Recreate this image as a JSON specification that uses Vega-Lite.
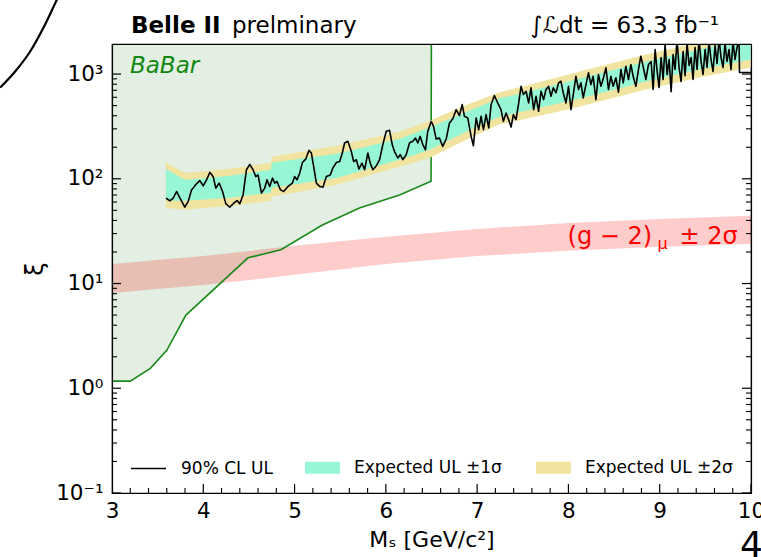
{
  "$schema": "https://vega.github.io/schema/vega-lite/v6.json",
  "width": 639,
  "height": 449,
  "autosize": {"type": "none"},
  "padding": {"left": 112, "top": 44, "right": 10, "bottom": 64},
  "background": "white",
  "config": {
    "font": "DejaVu Sans",
    "view": {"stroke": "black", "strokeWidth": 1.2},
    "text": {"font": "DejaVu Sans"}
  },
  "datasets": {
    "babar": [
      {"m": 3.0, "xi": 1.17}, {"m": 3.2, "xi": 1.17}, {"m": 3.42, "xi": 1.55}, {"m": 3.6, "xi": 2.3},
      {"m": 3.81, "xi": 5.0}, {"m": 4.49, "xi": 17.6}, {"m": 4.85, "xi": 21}, {"m": 5.3, "xi": 36},
      {"m": 5.71, "xi": 52.6}, {"m": 6.15, "xi": 70}, {"m": 6.495, "xi": 95}, {"m": 6.5, "xi": 5000}
    ],
    "g2": [
      {"m": 3, "lo": 8.11, "hi": 15.4}, {"m": 4, "lo": 9.67, "hi": 18.3}, {"m": 5, "lo": 12.1, "hi": 22.9},
      {"m": 6, "lo": 15.4, "hi": 27.9}, {"m": 7, "lo": 18.3, "hi": 33.2}, {"m": 8, "lo": 20.5, "hi": 37.9},
      {"m": 9, "lo": 22.4, "hi": 41.4}, {"m": 10, "lo": 23.9, "hi": 44.3}
    ],
    "exp": [
      {"m": 3.59, "y2lo": 52.8, "y1lo": 63, "y1hi": 125, "y2hi": 145},
      {"m": 3.70, "y2lo": 51.6, "y1lo": 61.6, "y1hi": 109, "y2hi": 127},
      {"m": 3.80, "y2lo": 50.5, "y1lo": 61.6, "y1hi": 97.8, "y2hi": 114},
      {"m": 3.96, "y2lo": 52.2, "y1lo": 63, "y1hi": 100, "y2hi": 117},
      {"m": 4.29, "y2lo": 55.1, "y1lo": 65.8, "y1hi": 107, "y2hi": 125},
      {"m": 4.74, "y2lo": 61.6, "y1lo": 73.5, "y1hi": 122, "y2hi": 142},
      {"m": 4.75, "y2lo": 67.3, "y1lo": 82, "y1hi": 142, "y2hi": 162},
      {"m": 5.46, "y2lo": 87.6, "y1lo": 102, "y1hi": 173, "y2hi": 207},
      {"m": 6.15, "y2lo": 130, "y1lo": 152, "y1hi": 241, "y2hi": 282},
      {"m": 6.48, "y2lo": 159, "y1lo": 189, "y1hi": 308, "y2hi": 359},
      {"m": 6.86, "y2lo": 231, "y1lo": 276, "y1hi": 428, "y2hi": 499},
      {"m": 7.24, "y2lo": 329, "y1lo": 392, "y1hi": 583, "y2hi": 665},
      {"m": 8.04, "y2lo": 468, "y1lo": 558, "y1hi": 867, "y2hi": 1011},
      {"m": 8.85, "y2lo": 711, "y1lo": 848, "y1hi": 1317, "y2hi": 1537},
      {"m": 9.43, "y2lo": 926, "y1lo": 1104, "y1hi": 1716, "y2hi": 2002},
      {"m": 10.0, "y2lo": 1154, "y1lo": 1376, "y1hi": 2186, "y2hi": 2551}
    ],
    "obs": [
      {"m": 3.591, "xi": 65.4}, {"m": 3.634, "xi": 61.6}, {"m": 3.670, "xi": 65.4}, {"m": 3.708, "xi": 75.6},
      {"m": 3.744, "xi": 65.4}, {"m": 3.798, "xi": 53.6}, {"m": 3.834, "xi": 60.6}, {"m": 3.872, "xi": 78.5},
      {"m": 3.926, "xi": 89.6}, {"m": 3.962, "xi": 96.3}, {"m": 3.999, "xi": 85.7}, {"m": 4.036, "xi": 97.8},
      {"m": 4.072, "xi": 115}, {"m": 4.108, "xi": 105}, {"m": 4.137, "xi": 81.5}, {"m": 4.174, "xi": 91},
      {"m": 4.211, "xi": 75.6}, {"m": 4.247, "xi": 57.7}, {"m": 4.291, "xi": 53.6}, {"m": 4.334, "xi": 58.6},
      {"m": 4.370, "xi": 62}, {"m": 4.400, "xi": 57.7}, {"m": 4.436, "xi": 70.3}, {"m": 4.473, "xi": 122},
      {"m": 4.509, "xi": 137}, {"m": 4.545, "xi": 122}, {"m": 4.575, "xi": 105}, {"m": 4.600, "xi": 109},
      {"m": 4.637, "xi": 73}, {"m": 4.673, "xi": 81.5}, {"m": 4.698, "xi": 97.8}, {"m": 4.728, "xi": 84.4},
      {"m": 4.758, "xi": 101.5}, {"m": 4.783, "xi": 91}, {"m": 4.808, "xi": 94.2}, {"m": 4.845, "xi": 78.5},
      {"m": 4.881, "xi": 75.6}, {"m": 4.928, "xi": 84.4}, {"m": 4.976, "xi": 91}, {"m": 5.001, "xi": 105},
      {"m": 5.027, "xi": 97.8}, {"m": 5.056, "xi": 113}, {"m": 5.086, "xi": 143}, {"m": 5.122, "xi": 154},
      {"m": 5.158, "xi": 187}, {"m": 5.184, "xi": 176}, {"m": 5.209, "xi": 131}, {"m": 5.239, "xi": 91},
      {"m": 5.275, "xi": 84.4}, {"m": 5.311, "xi": 83.3}, {"m": 5.348, "xi": 105}, {"m": 5.392, "xi": 109},
      {"m": 5.420, "xi": 127}, {"m": 5.458, "xi": 143}, {"m": 5.494, "xi": 146}, {"m": 5.523, "xi": 176},
      {"m": 5.548, "xi": 220}, {"m": 5.584, "xi": 228}, {"m": 5.622, "xi": 182}, {"m": 5.647, "xi": 146},
      {"m": 5.676, "xi": 152}, {"m": 5.705, "xi": 124}, {"m": 5.738, "xi": 141}, {"m": 5.767, "xi": 122},
      {"m": 5.803, "xi": 176}, {"m": 5.829, "xi": 141}, {"m": 5.858, "xi": 122}, {"m": 5.895, "xi": 133},
      {"m": 5.931, "xi": 152}, {"m": 5.967, "xi": 212}, {"m": 6.004, "xi": 284}, {"m": 6.040, "xi": 290},
      {"m": 6.070, "xi": 212}, {"m": 6.095, "xi": 182}, {"m": 6.131, "xi": 158}, {"m": 6.158, "xi": 170},
      {"m": 6.186, "xi": 152}, {"m": 6.223, "xi": 170}, {"m": 6.259, "xi": 220}, {"m": 6.295, "xi": 228},
      {"m": 6.325, "xi": 245}, {"m": 6.350, "xi": 220}, {"m": 6.376, "xi": 254}, {"m": 6.405, "xi": 212},
      {"m": 6.434, "xi": 189}, {"m": 6.459, "xi": 284}, {"m": 6.497, "xi": 353}, {"m": 6.522, "xi": 317},
      {"m": 6.551, "xi": 240}, {"m": 6.587, "xi": 245}, {"m": 6.623, "xi": 204}, {"m": 6.661, "xi": 240},
      {"m": 6.697, "xi": 341}, {"m": 6.733, "xi": 373}, {"m": 6.770, "xi": 457}, {"m": 6.806, "xi": 401},
      {"m": 6.836, "xi": 511}, {"m": 6.861, "xi": 395}, {"m": 6.897, "xi": 381}, {"m": 6.934, "xi": 254},
      {"m": 6.959, "xi": 207}, {"m": 6.989, "xi": 381}, {"m": 7.017, "xi": 294}, {"m": 7.043, "xi": 395},
      {"m": 7.069, "xi": 294}, {"m": 7.098, "xi": 410}, {"m": 7.127, "xi": 306}, {"m": 7.153, "xi": 511},
      {"m": 7.189, "xi": 623}, {"m": 7.225, "xi": 530}, {"m": 7.262, "xi": 457}, {"m": 7.287, "xi": 353},
      {"m": 7.317, "xi": 425}, {"m": 7.345, "xi": 367}, {"m": 7.372, "xi": 312}, {"m": 7.397, "xi": 410},
      {"m": 7.426, "xi": 367}, {"m": 7.455, "xi": 530}, {"m": 7.481, "xi": 764}, {"m": 7.506, "xi": 637},
      {"m": 7.536, "xi": 684}, {"m": 7.564, "xi": 530}, {"m": 7.590, "xi": 738}, {"m": 7.619, "xi": 457},
      {"m": 7.645, "xi": 613}, {"m": 7.673, "xi": 441}, {"m": 7.700, "xi": 684}, {"m": 7.728, "xi": 570},
      {"m": 7.754, "xi": 711}, {"m": 7.783, "xi": 764}, {"m": 7.809, "xi": 613}, {"m": 7.834, "xi": 738},
      {"m": 7.864, "xi": 661}, {"m": 7.892, "xi": 824}, {"m": 7.918, "xi": 853}, {"m": 7.943, "xi": 661},
      {"m": 7.973, "xi": 530}, {"m": 8.001, "xi": 764}, {"m": 8.028, "xi": 457}, {"m": 8.053, "xi": 637},
      {"m": 8.082, "xi": 953}, {"m": 8.111, "xi": 711}, {"m": 8.137, "xi": 824}, {"m": 8.162, "xi": 592},
      {"m": 8.192, "xi": 793}, {"m": 8.220, "xi": 1027}, {"m": 8.246, "xi": 793}, {"m": 8.271, "xi": 953},
      {"m": 8.301, "xi": 570}, {"m": 8.329, "xi": 989}, {"m": 8.356, "xi": 764}, {"m": 8.381, "xi": 900},
      {"m": 8.411, "xi": 1146}, {"m": 8.439, "xi": 711}, {"m": 8.465, "xi": 953}, {"m": 8.490, "xi": 764},
      {"m": 8.520, "xi": 920}, {"m": 8.548, "xi": 670}, {"m": 8.575, "xi": 1104}, {"m": 8.600, "xi": 824},
      {"m": 8.629, "xi": 1187}, {"m": 8.658, "xi": 886}, {"m": 8.684, "xi": 1233}, {"m": 8.709, "xi": 953},
      {"m": 8.739, "xi": 764}, {"m": 8.767, "xi": 1104}, {"m": 8.793, "xi": 1480}, {"m": 8.818, "xi": 1187},
      {"m": 8.848, "xi": 886}, {"m": 8.877, "xi": 1233}, {"m": 8.906, "xi": 1317}, {"m": 8.928, "xi": 711},
      {"m": 8.950, "xi": 1716}, {"m": 8.972, "xi": 1057}, {"m": 8.993, "xi": 743}, {"m": 9.015, "xi": 1438},
      {"m": 9.037, "xi": 886}, {"m": 9.059, "xi": 1916}, {"m": 9.081, "xi": 989}, {"m": 9.103, "xi": 1376},
      {"m": 9.125, "xi": 680}, {"m": 9.147, "xi": 1537}, {"m": 9.168, "xi": 1104}, {"m": 9.190, "xi": 2138},
      {"m": 9.212, "xi": 1154}, {"m": 9.234, "xi": 848}, {"m": 9.256, "xi": 1642}, {"m": 9.278, "xi": 967},
      {"m": 9.300, "xi": 1958}, {"m": 9.322, "xi": 1206}, {"m": 9.344, "xi": 1438}, {"m": 9.365, "xi": 886},
      {"m": 9.387, "xi": 1793}, {"m": 9.409, "xi": 1104}, {"m": 9.431, "xi": 2138}, {"m": 9.453, "xi": 1317},
      {"m": 9.475, "xi": 989}, {"m": 9.497, "xi": 1716}, {"m": 9.519, "xi": 1154}, {"m": 9.540, "xi": 2046},
      {"m": 9.562, "xi": 1376}, {"m": 9.584, "xi": 1057}, {"m": 9.606, "xi": 1874}, {"m": 9.628, "xi": 1260},
      {"m": 9.650, "xi": 2138}, {"m": 9.672, "xi": 1438}, {"m": 9.694, "xi": 1154}, {"m": 9.715, "xi": 1958},
      {"m": 9.737, "xi": 1317}, {"m": 9.759, "xi": 1716}, {"m": 9.781, "xi": 1104}, {"m": 9.803, "xi": 2046},
      {"m": 9.825, "xi": 1376}, {"m": 9.847, "xi": 1793}, {"m": 9.869, "xi": 2138}, {"m": 9.874, "xi": 1034},
      {"m": 10.0, "xi": 1034}
    ],
    "curve": [
      {"m": 1.775, "xi": 743}, {"m": 1.939, "xi": 1057}, {"m": 2.103, "xi": 1642},
      {"m": 2.267, "xi": 2977}, {"m": 2.398, "xi": 5163}, {"m": 2.453, "xi": 6438}
    ],
    "xmaj": [{"m": 3}, {"m": 4}, {"m": 5}, {"m": 6}, {"m": 7}, {"m": 8}, {"m": 9}, {"m": 10}],
    "xmin": [
      {"m": 3.2}, {"m": 3.4}, {"m": 3.6}, {"m": 3.8}, {"m": 4.2}, {"m": 4.4}, {"m": 4.6}, {"m": 4.8},
      {"m": 5.2}, {"m": 5.4}, {"m": 5.6}, {"m": 5.8}, {"m": 6.2}, {"m": 6.4}, {"m": 6.6}, {"m": 6.8},
      {"m": 7.2}, {"m": 7.4}, {"m": 7.6}, {"m": 7.8}, {"m": 8.2}, {"m": 8.4}, {"m": 8.6}, {"m": 8.8},
      {"m": 9.2}, {"m": 9.4}, {"m": 9.6}, {"m": 9.8}
    ],
    "ymaj": [{"xi": 0.1}, {"xi": 1}, {"xi": 10}, {"xi": 100}, {"xi": 1000}],
    "ymin": [
      {"xi": 0.2}, {"xi": 0.3}, {"xi": 0.4}, {"xi": 0.5}, {"xi": 0.6}, {"xi": 0.7}, {"xi": 0.8}, {"xi": 0.9},
      {"xi": 2}, {"xi": 3}, {"xi": 4}, {"xi": 5}, {"xi": 6}, {"xi": 7}, {"xi": 8}, {"xi": 9},
      {"xi": 20}, {"xi": 30}, {"xi": 40}, {"xi": 50}, {"xi": 60}, {"xi": 70}, {"xi": 80}, {"xi": 90},
      {"xi": 200}, {"xi": 300}, {"xi": 400}, {"xi": 500}, {"xi": 600}, {"xi": 700}, {"xi": 800}, {"xi": 900}
    ]
  },
  "resolve": {"axis": {"x": "independent", "y": "independent"}},
  "layer": [
    {
      "data": {"name": "babar"},
      "mark": {"type": "area", "color": "#e3efe3", "opacity": 1, "clip": true},
      "encoding": {
        "x": {
          "field": "m", "type": "quantitative",
          "scale": {"domain": [3, 10], "nice": false, "zero": false},
          "axis": {
            "orient": "bottom",
            "values": [3, 4, 5, 6, 7, 8, 9, 10],
            "format": "d",
            "ticks": false,
            "domainColor": "black", "domainWidth": 1.2,
            "labelFontSize": 21.5, "labelColor": "black", "labelPadding": 7,
            "labelFlush": false, "labelOverlap": false,
            "title": "Mₛ [GeV/c²]", "titleFontSize": 22, "titleFontWeight": "normal",
            "titleColor": "black", "titlePadding": 8, "grid": false, "zindex": 1
          }
        },
        "y": {
          "field": "xi", "type": "quantitative",
          "scale": {"type": "log", "domain": [0.1, 1936], "nice": false},
          "axis": {
            "orient": "left",
            "values": [0.1, 1, 10, 100, 1000],
            "labelExpr": "datum.value == 1000 ? '10³' : datum.value == 100 ? '10²' : datum.value == 10 ? '10¹' : datum.value == 1 ? '10⁰' : '10⁻¹'",
            "ticks": false,
            "domainColor": "black", "domainWidth": 1.2,
            "labelFontSize": 21.5, "labelColor": "black", "labelPadding": 9,
            "labelFlush": false, "labelOverlap": false,
            "title": "ξ", "titleFontSize": 24, "titleFontWeight": "normal",
            "titleColor": "black", "titlePadding": 8, "grid": false, "zindex": 1
          }
        },
        "y2": {"datum": 5000}
      }
    },
    {
      "data": {"name": "g2"},
      "mark": {"type": "area", "color": "#ff0000", "opacity": 0.2, "clip": true},
      "encoding": {
        "x": {
          "field": "m", "type": "quantitative",
          "scale": {"domain": [3, 10], "nice": false, "zero": false},
          "axis": {"orient": "top", "ticks": false, "labels": false, "domain": true, "domainColor": "black", "domainWidth": 1.2, "title": null, "grid": false, "zindex": 1}
        },
        "y": {
          "field": "lo", "type": "quantitative",
          "scale": {"type": "log", "domain": [0.1, 1936], "nice": false},
          "axis": {"orient": "right", "ticks": false, "labels": false, "domain": true, "domainColor": "black", "domainWidth": 1.2, "title": null, "grid": false, "zindex": 1}
        },
        "y2": {"field": "hi"}
      }
    },
    {
      "data": {"name": "babar"},
      "mark": {"type": "line", "color": "#1a8a1a", "strokeWidth": 1.6, "clip": true},
      "encoding": {
        "x": {"field": "m", "type": "quantitative", "scale": {"domain": [3, 10], "nice": false, "zero": false}, "axis": null},
        "y": {"field": "xi", "type": "quantitative", "scale": {"type": "log", "domain": [0.1, 1936], "nice": false}, "axis": null}
      }
    },
    {
      "data": {"name": "exp"},
      "mark": {"type": "area", "opacity": 1, "clip": true},
      "encoding": {
        "x": {"field": "m", "type": "quantitative", "scale": {"domain": [3, 10], "nice": false, "zero": false}, "axis": null},
        "y": {"field": "y2lo", "type": "quantitative", "scale": {"type": "log", "domain": [0.1, 1936], "nice": false}, "axis": null},
        "y2": {"field": "y2hi"},
        "color": {
          "datum": "Expected UL ±2σ", "type": "nominal",
          "scale": {"domain": ["Expected UL ±1σ", "Expected UL ±2σ"], "range": ["#97f6d4", "#f0e4a0"]},
          "legend": {
            "title": null, "orient": "none", "legendX": 193, "legendY": 406,
            "direction": "horizontal", "columns": 2, "columnPadding": 34,
            "symbolType": "M-1,-0.34H1V0.34H-1Z", "symbolSize": 1225, "symbolStrokeWidth": 0, "symbolOpacity": 1,
            "labelOffset": 14, "labelFontSize": 17, "labelColor": "black",
            "labelFont": "DejaVu Sans", "labelLimit": 300, "padding": 0
          }
        }
      }
    },
    {
      "data": {"name": "exp"},
      "mark": {"type": "area", "opacity": 1, "clip": true},
      "encoding": {
        "x": {"field": "m", "type": "quantitative", "scale": {"domain": [3, 10], "nice": false, "zero": false}, "axis": null},
        "y": {"field": "y1lo", "type": "quantitative", "scale": {"type": "log", "domain": [0.1, 1936], "nice": false}, "axis": null},
        "y2": {"field": "y1hi"},
        "color": {"datum": "Expected UL ±1σ", "type": "nominal"}
      }
    },
    {
      "data": {"name": "obs"},
      "mark": {"type": "line", "color": "black", "strokeWidth": 1.6, "strokeJoin": "round", "clip": true},
      "encoding": {
        "x": {"field": "m", "type": "quantitative", "scale": {"domain": [3, 10], "nice": false, "zero": false}, "axis": null},
        "y": {"field": "xi", "type": "quantitative", "scale": {"type": "log", "domain": [0.1, 1936], "nice": false}, "axis": null},
        "strokeDash": {
          "datum": "90% CL UL", "type": "nominal",
          "scale": {"domain": ["90% CL UL"], "range": [[1, 0]]},
          "legend": {
            "title": null, "orient": "none", "legendX": 18, "legendY": 406,
            "symbolType": "stroke", "symbolSize": 1225, "symbolStrokeColor": "black", "symbolStrokeWidth": 1.5,
            "labelOffset": 14, "labelFontSize": 17, "labelColor": "black",
            "labelFont": "DejaVu Sans", "labelLimit": 300, "padding": 0
          }
        }
      }
    },
    {
      "data": {"name": "xmaj"},
      "mark": {"type": "tick", "orient": "vertical", "size": 18, "thickness": 1.2, "color": "black", "opacity": 1, "clip": true},
      "encoding": {
        "x": {"field": "m", "type": "quantitative", "scale": {"domain": [3, 10], "nice": false, "zero": false}, "axis": null},
        "y": {"datum": 0.1, "type": "quantitative", "scale": {"type": "log", "domain": [0.1, 1936], "nice": false}, "axis": null}
      }
    },
    {
      "data": {"name": "xmin"},
      "mark": {"type": "tick", "orient": "vertical", "size": 10, "thickness": 1.1, "color": "black", "opacity": 1, "clip": true},
      "encoding": {
        "x": {"field": "m", "type": "quantitative", "scale": {"domain": [3, 10], "nice": false, "zero": false}, "axis": null},
        "y": {"datum": 0.1, "type": "quantitative", "scale": {"type": "log", "domain": [0.1, 1936], "nice": false}, "axis": null}
      }
    },
    {
      "data": {"name": "ymaj"},
      "mark": {"type": "tick", "orient": "horizontal", "size": 18, "thickness": 1.2, "color": "black", "opacity": 1, "clip": true},
      "encoding": {
        "x": {"datum": 3, "type": "quantitative", "scale": {"domain": [3, 10], "nice": false, "zero": false}, "axis": null},
        "y": {"field": "xi", "type": "quantitative", "scale": {"type": "log", "domain": [0.1, 1936], "nice": false}, "axis": null}
      }
    },
    {
      "data": {"name": "ymin"},
      "mark": {"type": "tick", "orient": "horizontal", "size": 10, "thickness": 1.1, "color": "black", "opacity": 1, "clip": true},
      "encoding": {
        "x": {"datum": 3, "type": "quantitative", "scale": {"domain": [3, 10], "nice": false, "zero": false}, "axis": null},
        "y": {"field": "xi", "type": "quantitative", "scale": {"type": "log", "domain": [0.1, 1936], "nice": false}, "axis": null}
      }
    },
    {
      "data": {"name": "ymaj"},
      "mark": {"type": "tick", "orient": "horizontal", "size": 18, "thickness": 1.2, "color": "black", "opacity": 1, "clip": true},
      "encoding": {
        "x": {"datum": 10, "type": "quantitative", "scale": {"domain": [3, 10], "nice": false, "zero": false}, "axis": null},
        "y": {"field": "xi", "type": "quantitative", "scale": {"type": "log", "domain": [0.1, 1936], "nice": false}, "axis": null}
      }
    },
    {
      "data": {"name": "ymin"},
      "mark": {"type": "tick", "orient": "horizontal", "size": 10, "thickness": 1.1, "color": "black", "opacity": 1, "clip": true},
      "encoding": {
        "x": {"datum": 10, "type": "quantitative", "scale": {"domain": [3, 10], "nice": false, "zero": false}, "axis": null},
        "y": {"field": "xi", "type": "quantitative", "scale": {"type": "log", "domain": [0.1, 1936], "nice": false}, "axis": null}
      }
    },
    {
      "data": {"values": [{"m": 3.197, "xi": 1022, "label": "BaBar"}]},
      "mark": {"type": "text", "align": "left", "baseline": "alphabetic", "fontSize": 23, "fontStyle": "italic", "color": "#118811"},
      "encoding": {
        "x": {"field": "m", "type": "quantitative", "scale": {"domain": [3, 10], "nice": false, "zero": false}, "axis": null},
        "y": {"field": "xi", "type": "quantitative", "scale": {"type": "log", "domain": [0.1, 1936], "nice": false}, "axis": null},
        "text": {"field": "label"}
      }
    },
    {
      "data": {"values": [{"m": 7.99, "xi": 23.9, "label": "(g − 2)"}]},
      "mark": {"type": "text", "align": "left", "baseline": "alphabetic", "fontSize": 24, "color": "#ff0000"},
      "encoding": {
        "x": {"field": "m", "type": "quantitative", "scale": {"domain": [3, 10], "nice": false, "zero": false}, "axis": null},
        "y": {"field": "xi", "type": "quantitative", "scale": {"type": "log", "domain": [0.1, 1936], "nice": false}, "axis": null},
        "text": {"field": "label"}
      }
    },
    {
      "data": {"values": [{"m": 7.99, "xi": 23.9, "label": "μ"}]},
      "mark": {"type": "text", "align": "left", "baseline": "alphabetic", "fontSize": 16, "color": "#ff0000", "dx": 90, "dy": 5},
      "encoding": {
        "x": {"field": "m", "type": "quantitative", "scale": {"domain": [3, 10], "nice": false, "zero": false}, "axis": null},
        "y": {"field": "xi", "type": "quantitative", "scale": {"type": "log", "domain": [0.1, 1936], "nice": false}, "axis": null},
        "text": {"field": "label"}
      }
    },
    {
      "data": {"values": [{"m": 7.99, "xi": 23.9, "label": "± 2σ"}]},
      "mark": {"type": "text", "align": "left", "baseline": "alphabetic", "fontSize": 24, "color": "#ff0000", "dx": 112},
      "encoding": {
        "x": {"field": "m", "type": "quantitative", "scale": {"domain": [3, 10], "nice": false, "zero": false}, "axis": null},
        "y": {"field": "xi", "type": "quantitative", "scale": {"type": "log", "domain": [0.1, 1936], "nice": false}, "axis": null},
        "text": {"field": "label"}
      }
    },
    {
      "data": {"values": [{"m": 3.208, "xi": 2466, "label": "Belle II"}]},
      "mark": {"type": "text", "align": "left", "baseline": "alphabetic", "fontSize": 23, "fontWeight": "bold", "color": "black"},
      "encoding": {
        "x": {"field": "m", "type": "quantitative", "scale": {"domain": [3, 10], "nice": false, "zero": false}, "axis": null},
        "y": {"field": "xi", "type": "quantitative", "scale": {"type": "log", "domain": [0.1, 1936], "nice": false}, "axis": null},
        "text": {"field": "label"}
      }
    },
    {
      "data": {"values": [{"m": 3.208, "xi": 2466, "label": "prelminary"}]},
      "mark": {"type": "text", "align": "left", "baseline": "alphabetic", "fontSize": 23, "color": "black", "dx": 101},
      "encoding": {
        "x": {"field": "m", "type": "quantitative", "scale": {"domain": [3, 10], "nice": false, "zero": false}, "axis": null},
        "y": {"field": "xi", "type": "quantitative", "scale": {"type": "log", "domain": [0.1, 1936], "nice": false}, "axis": null},
        "text": {"field": "label"}
      }
    },
    {
      "data": {"values": [{"m": 9.65, "xi": 2466, "label": "∫ℒdt = 63.3 fb⁻¹"}]},
      "mark": {"type": "text", "align": "right", "baseline": "alphabetic", "fontSize": 23, "color": "black"},
      "encoding": {
        "x": {"field": "m", "type": "quantitative", "scale": {"domain": [3, 10], "nice": false, "zero": false}, "axis": null},
        "y": {"field": "xi", "type": "quantitative", "scale": {"type": "log", "domain": [0.1, 1936], "nice": false}, "axis": null},
        "text": {"field": "label"}
      }
    },
    {
      "data": {"values": [{"m": 9.88, "xi": 0.0247, "label": "4"}]},
      "mark": {"type": "text", "align": "left", "baseline": "alphabetic", "fontSize": 36, "color": "black"},
      "encoding": {
        "x": {"field": "m", "type": "quantitative", "scale": {"domain": [3, 10], "nice": false, "zero": false}, "axis": null},
        "y": {"field": "xi", "type": "quantitative", "scale": {"type": "log", "domain": [0.1, 1936], "nice": false}, "axis": null},
        "text": {"field": "label"}
      }
    },
    {
      "data": {"name": "curve"},
      "mark": {"type": "line", "color": "black", "strokeWidth": 2.2, "clip": false, "interpolate": "monotone"},
      "encoding": {
        "x": {"field": "m", "type": "quantitative", "scale": {"domain": [3, 10], "nice": false, "zero": false}, "axis": null},
        "y": {"field": "xi", "type": "quantitative", "scale": {"type": "log", "domain": [0.1, 1936], "nice": false}, "axis": null}
      }
    }
  ]
}
